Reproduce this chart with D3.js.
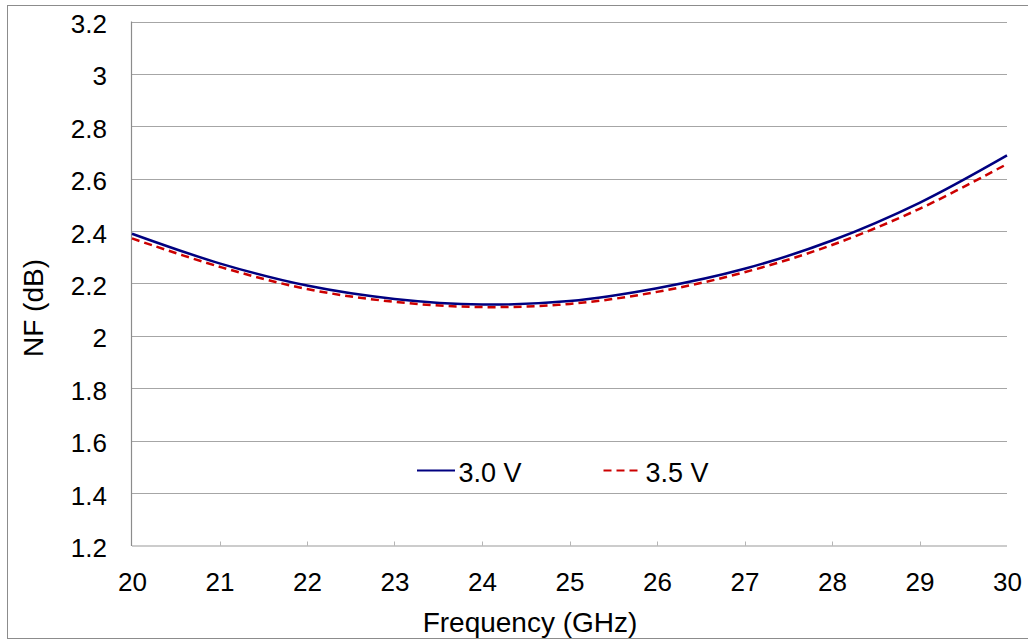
<!DOCTYPE html>
<html>
<head>
<meta charset="utf-8">
<script src="https://cdn.jsdelivr.net/npm/d3@7"></script>
<style>
  html, body { margin: 0; padding: 0; background: #fff; }
  svg { display: block; font-family: "Liberation Sans", Arial, sans-serif; }
</style>
</head>
<body>
<svg id="chart" width="1028" height="640"></svg>
<script>
// ---- data ----
const frequency = [20, 21, 22, 23, 24, 25, 26, 27, 28, 29, 30];
const nf30V = [2.39, 2.277, 2.192, 2.141, 2.12, 2.133, 2.182, 2.256, 2.364, 2.508, 2.689];
const nf35V = [2.372, 2.264, 2.179, 2.13, 2.11, 2.122, 2.168, 2.243, 2.347, 2.485, 2.656];
const seriesNames = ["3.0 V", "3.5 V"];
const yTicks = [1.2, 1.4, 1.6, 1.8, 2.0, 2.2, 2.4, 2.6, 2.8, 3.0, 3.2];
const yTickLabels = ["1.2", "1.4", "1.6", "1.8", "2", "2.2", "2.4", "2.6", "2.8", "3", "3.2"];
const xTicks = [20, 21, 22, 23, 24, 25, 26, 27, 28, 29, 30];
const xTitle = "Frequency (GHz)";
const yTitle = "NF (dB)";

const svg = d3.select("#chart");
const L = 132, R = 1007, T = 21.5, B = 545.5;

const x = d3.scaleLinear().domain([20, 30]).range([L, R]);
const y = d3.scaleLinear().domain([1.2, 3.2]).range([B, T]);

// outer frame
svg.append("rect")
  .attr("x", 7.5).attr("y", 5.5).attr("width", 1040).attr("height", 633)
  .attr("fill", "#fff").attr("stroke", "#8c8c8c").attr("stroke-width", 1);

// grid lines
svg.append("g").selectAll("line").data(yTicks.slice(1)).join("line")
  .attr("x1", L).attr("x2", R)
  .attr("y1", d => Math.round(y(d)) + 0.5).attr("y2", d => Math.round(y(d)) + 0.5)
  .attr("stroke", "#a6a6a6").attr("stroke-width", 1.2);

// y axis labels via d3 axis
const yAxis = d3.axisLeft(y).tickValues(yTicks)
  .tickFormat((d, i) => yTickLabels[i]).tickSize(0).tickPadding(25);
const gy = svg.append("g").attr("transform", `translate(${L},0)`).call(yAxis);
gy.select(".domain").remove();
gy.selectAll("text").attr("font-size", 26).attr("fill", "#000")
  .attr("font-family", "Liberation Sans, Arial, sans-serif")
  .attr("dy", "11px");

// left axis line
svg.append("line").attr("x1", L - 0.5).attr("x2", L - 0.5).attr("y1", T).attr("y2", B + 0.5)
  .attr("stroke", "#8c8c8c").attr("stroke-width", 1.2);

// x axis
const xAxis = d3.axisBottom(x).tickValues(xTicks).tickSize(0).tickPadding(0);
const gx = svg.append("g").attr("transform", `translate(0,${B})`).call(xAxis);
gx.select(".domain").remove();
gx.selectAll("text").attr("font-size", 26).attr("fill", "#000")
  .attr("font-family", "Liberation Sans, Arial, sans-serif")
  .attr("y", 45.5).attr("dy", 0);
// inward tick marks
svg.append("g").selectAll("line").data(xTicks.slice(1, -1)).join("line")
  .attr("x1", d => Math.round(x(d)) + 0.5).attr("x2", d => Math.round(x(d)) + 0.5)
  .attr("y1", B - 4).attr("y2", B)
  .attr("stroke", "#b5b5b5").attr("stroke-width", 1);
svg.append("line").attr("x1", L).attr("x2", R).attr("y1", B + 0.5).attr("y2", B + 0.5)
  .attr("stroke", "#9a9a9a").attr("stroke-width", 1.2);

// titles
svg.append("text").attr("x", 530).attr("y", 632).attr("text-anchor", "middle")
  .attr("font-size", 28).attr("fill", "#000").text(xTitle);
svg.append("text").attr("transform", "translate(42.5,308) rotate(-90)")
  .attr("text-anchor", "middle").attr("font-size", 28).attr("fill", "#000").text(yTitle);

// lines
const line = d3.line().x((d, i) => x(frequency[i])).y(d => y(d))
  .curve(d3.curveCatmullRom.alpha(0.5));
svg.append("path").datum(nf30V).attr("d", line)
  .attr("fill", "none").attr("stroke", "#000080").attr("stroke-width", 2.5);
svg.append("path").datum(nf35V).attr("d", line)
  .attr("fill", "none").attr("stroke", "#cc0000").attr("stroke-width", 2.5)
  .attr("stroke-dasharray", "8,5");

// legend
const legend = svg.append("g");
legend.append("line").attr("x1", 417).attr("x2", 455).attr("y1", 470.5).attr("y2", 470.5)
  .attr("stroke", "#000080").attr("stroke-width", 2);
legend.append("text").attr("x", 458.5).attr("y", 481.5).attr("font-size", 27)
  .attr("fill", "#000").text(seriesNames[0]);
legend.append("line").attr("x1", 603.5).attr("x2", 642).attr("y1", 470.5).attr("y2", 470.5)
  .attr("stroke", "#cc0000").attr("stroke-width", 2).attr("stroke-dasharray", "8,5");
legend.append("text").attr("x", 645.5).attr("y", 481.5).attr("font-size", 27)
  .attr("fill", "#000").text(seriesNames[1]);
</script>
</body>
</html>
